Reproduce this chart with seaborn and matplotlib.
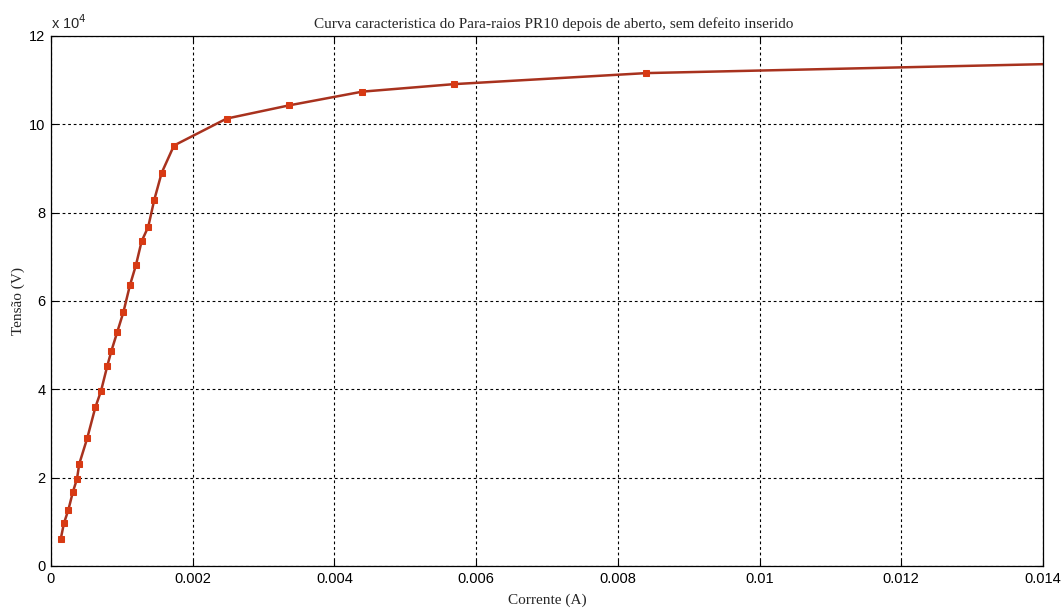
import numpy as np
import pandas as pd
import matplotlib
matplotlib.use("Agg")
import matplotlib.pyplot as plt
import seaborn as sns
from matplotlib.ticker import FuncFormatter

# Measured V-I characteristic of arrester PR10 (opened, no defect)
corrente = [0.000137, 0.000183, 0.000245, 0.000310, 0.000367, 0.000399, 0.000513,
            0.000626, 0.000706, 0.000795, 0.000851, 0.000936, 0.001021, 0.001115,
            0.001199, 0.001279, 0.001373, 0.001458, 0.001562, 0.001736, 0.002479,
            0.003363, 0.004394, 0.005688, 0.008403, 0.014500]
tensao = [6040, 9670, 12680, 16800, 19700, 23100, 29000,
          35900, 39600, 45300, 48600, 53000, 57400, 63600,
          68100, 73500, 76800, 82900, 89000, 95200, 101300,
          104300, 107400, 109100, 111600, 113800]

x_ticks = [0, 0.002, 0.004, 0.006, 0.008, 0.01, 0.012, 0.014]
y_ticks = [0, 2, 4, 6, 8, 10, 12]

titulo = "Curva caracteristica do Para-raios PR10 depois de aberto, sem defeito inserido"
rotulo_x = "Corrente (A)"
rotulo_y = "Tensão (V)"

df = pd.DataFrame({"I": corrente, "V": np.array(tensao) / 1e4})

sns.set_style("white")
plt.rcParams["font.family"] = ["Liberation Sans Narrow", "Liberation Sans", "DejaVu Sans"]

fig = plt.figure(figsize=(10.64, 6.08), dpi=100)
ax = fig.add_axes([0.0479, 0.0691, 0.9323, 0.8717])

sns.lineplot(data=df, x="I", y="V", ax=ax, color="#a8321e", linewidth=1.8,
             marker="s", markersize=4.2, markerfacecolor="#d83a14",
             markeredgecolor="#d83a14", sort=False)

ax.set_xlim(0, 0.014)
ax.set_ylim(0, 12)
ax.set_xticks(x_ticks)
ax.set_yticks(y_ticks)
ax.xaxis.set_major_formatter(FuncFormatter(lambda v, p: "%g" % round(v, 6)))
ax.yaxis.set_major_formatter(FuncFormatter(lambda v, p: "%g" % v))

ax.grid(True, color="black", linestyle=(0, (2.5, 2.5)), linewidth=0.8)
for s in ax.spines.values():
    s.set_color("black")
    s.set_linewidth(0.9)
ax.tick_params(direction="in", length=4, width=0.8, labelsize=10.5, colors="black",
               top=True, right=True, bottom=True, left=True, pad=4)

serif = ["Liberation Serif", "DejaVu Serif"]
ax.set_title(titulo, fontsize=11, family=serif, pad=6, x=0.507)
ax.set_xlabel(rotulo_x, fontsize=11, family=serif, labelpad=6)
ax.set_ylabel(rotulo_y, fontsize=11, family=serif, labelpad=3)
ax.text(0.0, 1.008, r"x 10$^{4}$", transform=ax.transAxes, fontsize=10.5,
        ha="left", va="bottom")

fig.savefig("out.png", dpi=100, facecolor="white")
